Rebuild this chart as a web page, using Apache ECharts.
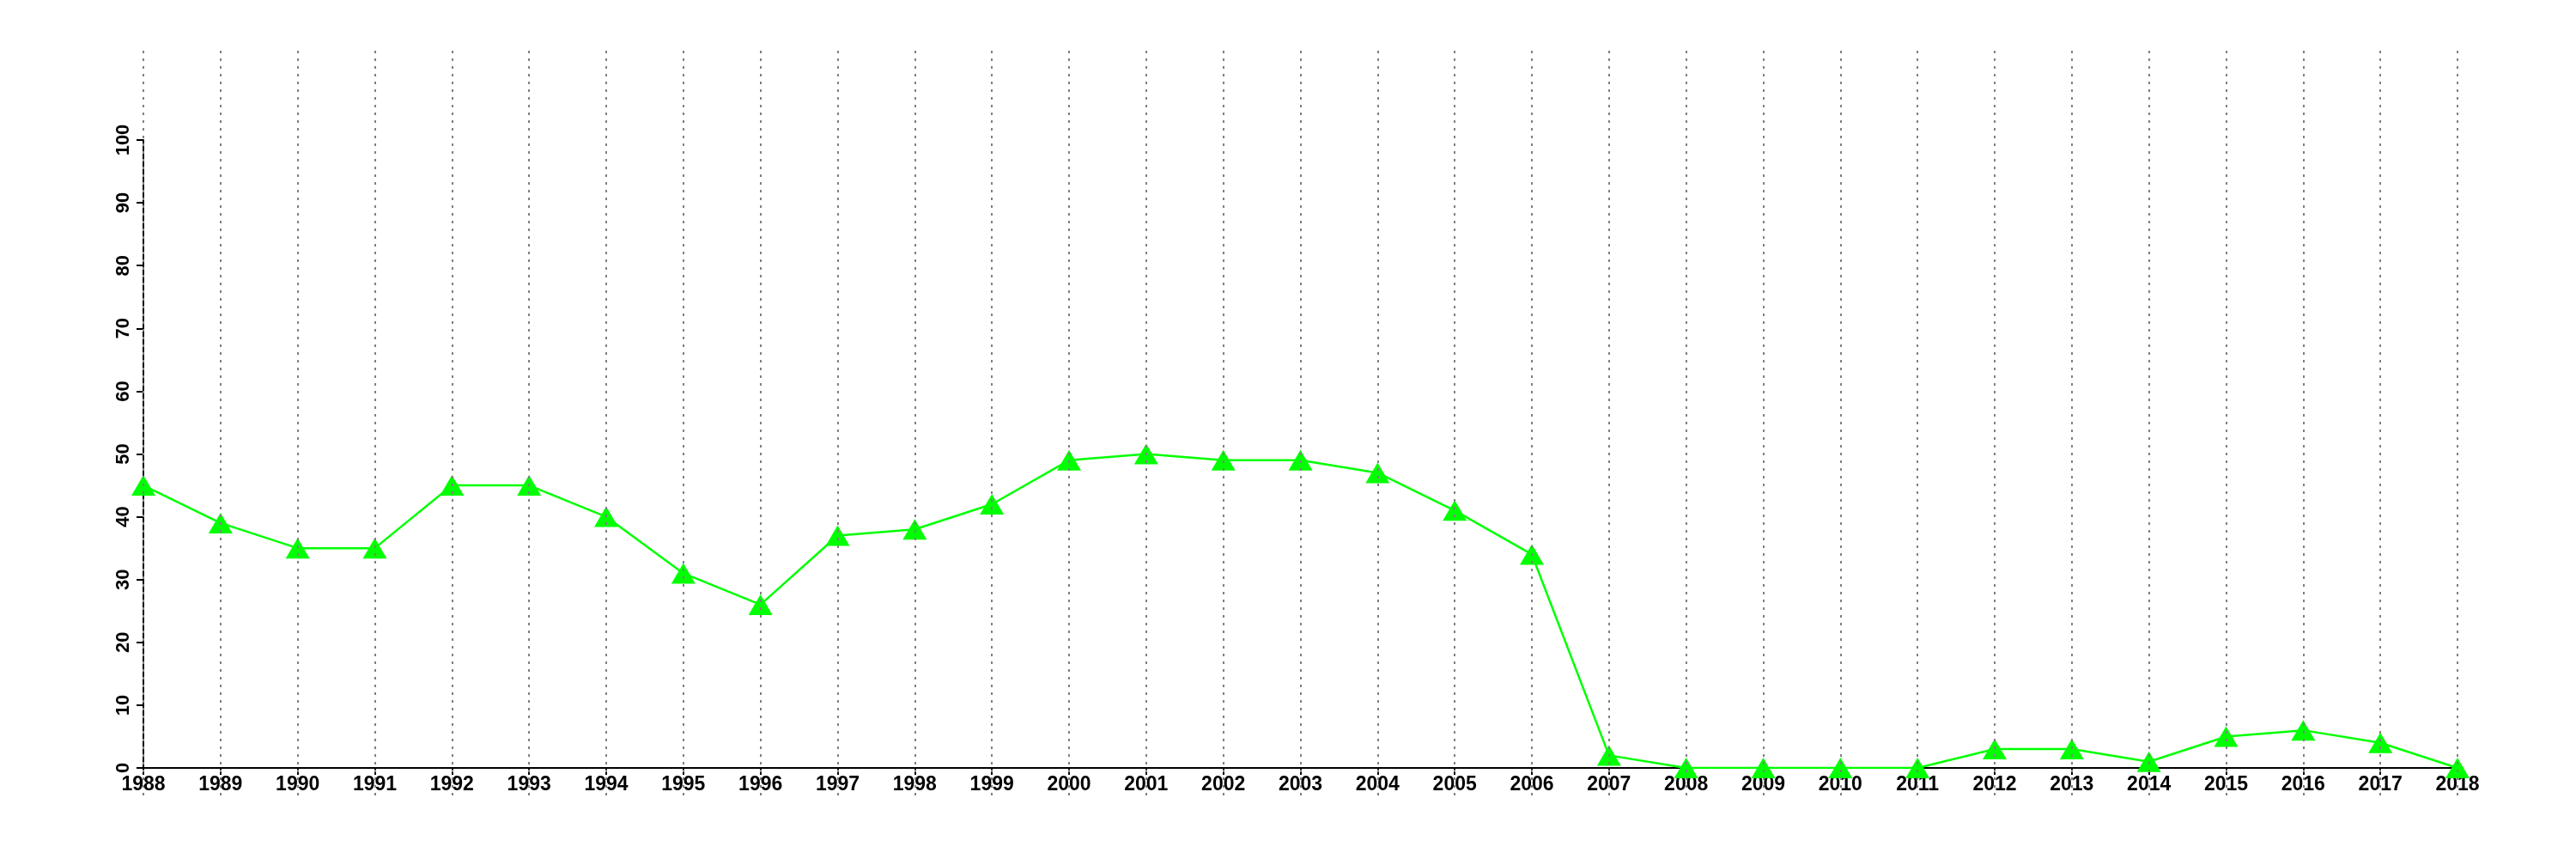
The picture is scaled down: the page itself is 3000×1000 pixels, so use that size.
<!DOCTYPE html>
<html>
<head>
<meta charset="utf-8">
<script src="https://cdn.jsdelivr.net/npm/echarts@6/dist/echarts.min.js"></script>
<style>html,body{margin:0;padding:0;background:#fff}#c{width:3000px;height:1000px}</style>
</head>
<body>
<div id="c"></div>
<script>
const years = ['1988','1989','1990','1991','1992','1993','1994','1995','1996','1997','1998','1999','2000','2001','2002','2003','2004','2005','2006','2007','2008','2009','2010','2011','2012','2013','2014','2015','2016','2017','2018'];
const values = [45,39,35,35,45,45,40,31,26,37,38,42,49,50,49,49,47,41,34,2,0,0,0,0,3,3,1,5,6,4,0];
const yMin = 0, yMax = 100, yStep = 10;

const chart = echarts.init(document.getElementById('c'), null, {renderer: 'canvas'});
const font = {fontFamily: 'Liberation Sans', fontWeight: 'bold', color: '#000'};
chart.setOption({
  animation: false,
  backgroundColor: '#ffffff',
  grid: [
    {left: 167, right: 138, top: 163, bottom: 106},
    {left: 167, right: 138, top: 59, bottom: 73}
  ],
  xAxis: [
    {
      gridIndex: 0, type: 'category', data: years, boundaryGap: false,
      axisLine: {lineStyle: {color: '#000', width: 2}},
      axisTick: {show: true, length: 8, alignWithLabel: true, lineStyle: {color: '#000', width: 2}},
      axisLabel: Object.assign({margin: 8, interval: 0, fontSize: 23}, font),
      splitLine: {show: false}
    },
    {
      gridIndex: 1, type: 'category', data: years, boundaryGap: false, z: 10,
      axisLine: {show: false}, axisTick: {show: false}, axisLabel: {show: false},
      splitLine: {show: true, interval: 0, lineStyle: {color: '#808080', width: 2, type: [3, 6]}}
    }
  ],
  yAxis: [
    {
      gridIndex: 0, type: 'value', min: yMin, max: yMax, interval: yStep,
      axisLine: {show: true, lineStyle: {color: '#000', width: 2}},
      axisTick: {show: true, length: 8, lineStyle: {color: '#000', width: 2}},
      axisLabel: Object.assign({rotate: 90, margin: 12, fontSize: 22}, font),
      splitLine: {show: false}
    },
    {gridIndex: 1, type: 'value', min: 0, max: 1, show: false, splitLine: {show: false}}
  ],
  series: [{
    type: 'line', xAxisIndex: 0, yAxisIndex: 0, data: values,
    symbol: 'triangle', symbolSize: [28, 24], showAllSymbol: true,
    lineStyle: {color: '#00ff00', width: 2.5},
    itemStyle: {color: '#00ff00', borderWidth: 0}
  }]
});
</script>
</body>
</html>
